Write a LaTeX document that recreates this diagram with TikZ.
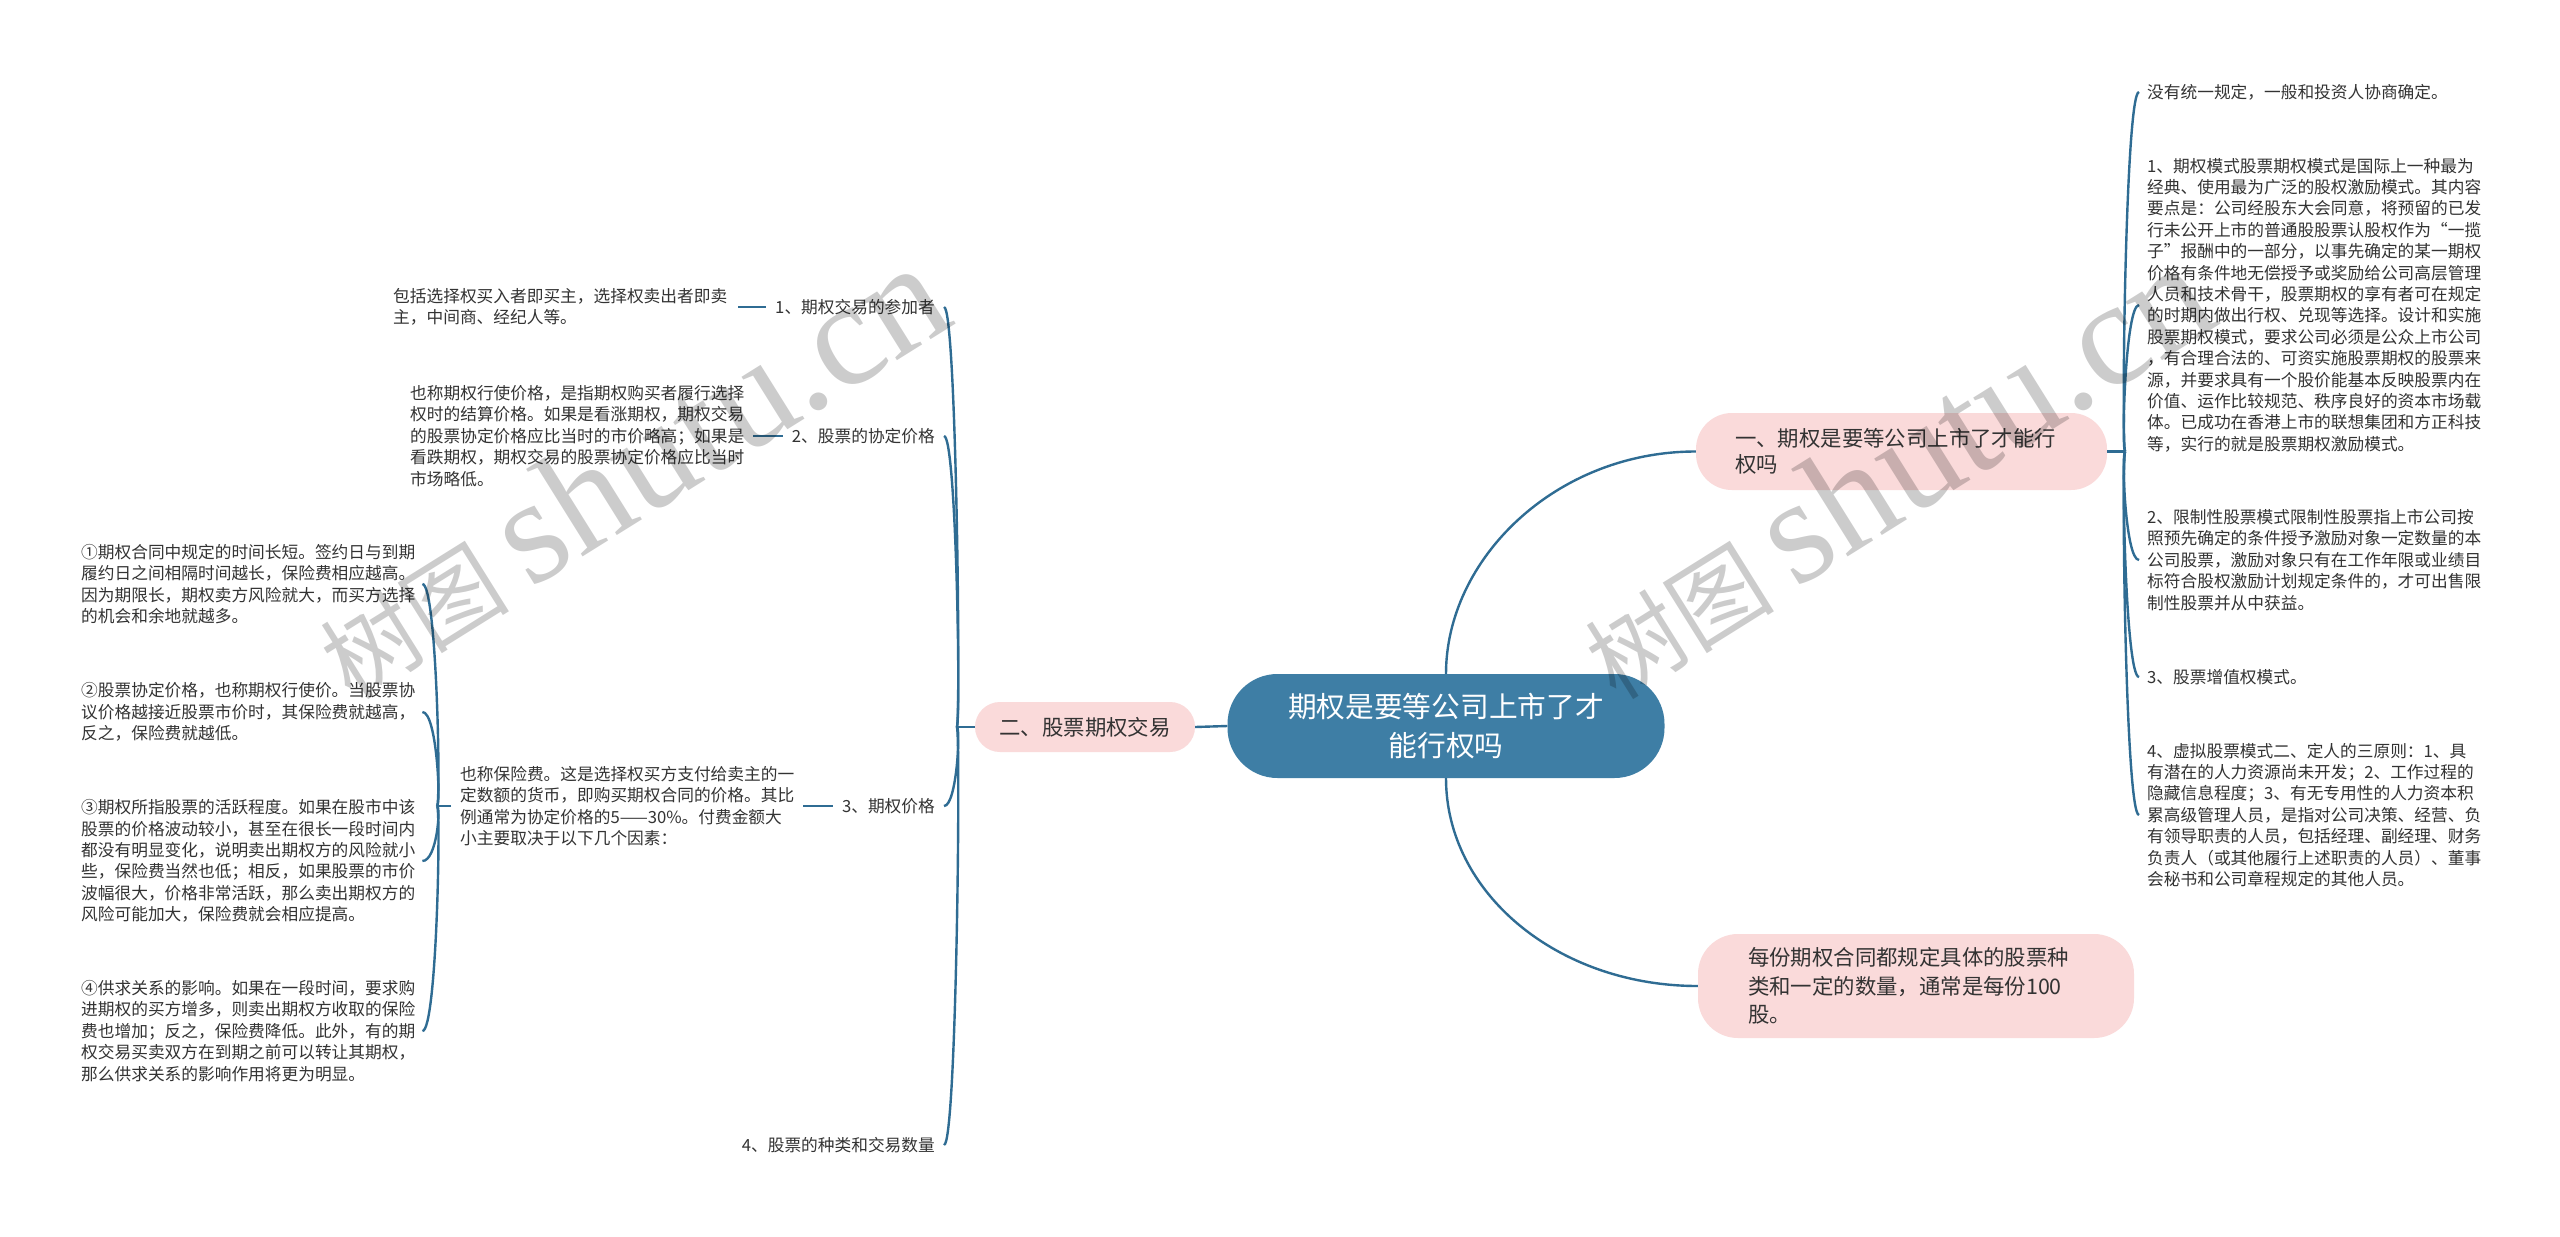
\documentclass[tikz,border=0pt]{standalone}
\usepackage{fontspec}
\setmainfont{Noto Sans CJK SC}
\newfontfamily\wmlatin{Liberation Serif}
\newfontfamily\wmcjk{Noto Sans CJK SC}
\usetikzlibrary{calc}
\definecolor{linec}{RGB}{47,108,147}
\definecolor{rootc}{RGB}{62,126,165}
\definecolor{pinkc}{RGB}{250,218,218}
\definecolor{txtc}{RGB}{51,51,51}
\tikzset{
  body/.style={font=\fontsize{16.7}{21.4}\selectfont, text=txtc, inner sep=0pt, align=left},
  lab/.style={font=\fontsize{16.7}{21.4}\selectfont, text=txtc, inner sep=0pt},
  pinkbox/.style={fill=pinkc, text=txtc, font=\fontsize{21.4}{26}\selectfont},
  rootbox/.style={fill=rootc, text=white, rounded corners=50pt, minimum width=437pt, minimum height=104pt, align=center, font=\fontsize{28.7}{39}\selectfont, inner sep=0pt},
  link/.style={draw=linec, line width=2.4pt},
  wm/.style={text=black, text opacity=0.2, inner sep=0pt, rotate=32, anchor=base west}
}
\begin{document}
\begin{tikzpicture}[x=1pt,y=-1pt]
\useasboundingbox (0,0) rectangle (2560,1237);
\fill[white] (0,0) rectangle (2560,1237);

% main nodes
\node[rootbox] (root) at (1446,726) {期权是要等公司上市了才\\能行权吗};
\node[pinkbox, rounded corners=36pt, minimum height=77pt, text width=333pt, inner xsep=39pt, inner ysep=0pt, align=left] (n1) at (1901.5,451.5) {一、期权是要等公司上市了才能行\\权吗};
\node[pinkbox, rounded corners=25pt, minimum width=220pt, minimum height=50pt, inner sep=0pt] (n2) at (1085,727) {二、股票期权交易};
\node[pinkbox, rounded corners=40pt, minimum height=104pt, text width=336pt, inner xsep=50pt, inner ysep=0pt, align=left, font=\fontsize{21.4}{28.5}\selectfont] (n3) at (1916,986) {每份期权合同都规定具体的股票种\\类和一定的数量，通常是每份100\\股。};

% right children
\node[body, anchor=west] (R1) at (2147,92) {没有统一规定，一般和投资人协商确定。};
\node[body, anchor=west] (R2) at (2147,305) {1、期权模式股票期权模式是国际上一种最为\\经典、使用最为广泛的股权激励模式。其内容\\要点是：公司经股东大会同意，将预留的已发\\行未公开上市的普通股股票认股权作为“一揽\\子”报酬中的一部分，以事先确定的某一期权\\价格有条件地无偿授予或奖励给公司高层管理\\人员和技术骨干，股票期权的享有者可在规定\\的时期内做出行权、兑现等选择。设计和实施\\股票期权模式，要求公司必须是公众上市公司\\，有合理合法的、可资实施股票期权的股票来\\源，并要求具有一个股价能基本反映股票内在\\价值、运作比较规范、秩序良好的资本市场载\\体。已成功在香港上市的联想集团和方正科技\\等，实行的就是股票期权激励模式。};
\node[body, anchor=west] (R3) at (2147,560) {2、限制性股票模式限制性股票指上市公司按\\照预先确定的条件授予激励对象一定数量的本\\公司股票，激励对象只有在工作年限或业绩目\\标符合股权激励计划规定条件的，才可出售限\\制性股票并从中获益。};
\node[body, anchor=west] (R4) at (2147,677) {3、股票增值权模式。};
\node[body, anchor=west] (R5) at (2147,815) {4、虚拟股票模式二、定人的三原则：1、具\\有潜在的人力资源尚未开发；2、工作过程的\\隐藏信息程度；3、有无专用性的人力资本积\\累高级管理人员，是指对公司决策、经营、负\\有领导职责的人员，包括经理、副经理、财务\\负责人（或其他履行上述职责的人员）、董事\\会秘书和公司章程规定的其他人员。};

% left labels
\node[lab, anchor=east] (L1) at (935,307) {1、期权交易的参加者};
\node[lab, anchor=east] (L2) at (935,436) {2、股票的协定价格};
\node[lab, anchor=east] (L3) at (935,806) {3、期权价格};
\node[lab, anchor=east] (L4) at (935,1145) {4、股票的种类和交易数量};

% left texts
\node[body, anchor=west] (T1) at (393,307) {包括选择权买入者即买主，选择权卖出者即卖\\主，中间商、经纪人等。};
\node[body, anchor=west] (T2) at (410,436) {也称期权行使价格，是指期权购买者履行选择\\权时的结算价格。如果是看涨期权，期权交易\\的股票协定价格应比当时的市价略高；如果是\\看跌期权，期权交易的股票协定价格应比当时\\市场略低。};
\node[body, anchor=west] (T3) at (460,806) {也称保险费。这是选择权买方支付给卖主的一\\定数额的货币，即购买期权合同的价格。其比\\例通常为协定价格的5——30\%。付费金额大\\小主要取决于以下几个因素：};

\node[body, anchor=west] (Q1) at (81,584) {①期权合同中规定的时间长短。签约日与到期\\履约日之间相隔时间越长，保险费相应越高。\\因为期限长，期权卖方风险就大，而买方选择\\的机会和余地就越多。};
\node[body, anchor=west] (Q2) at (81,712) {②股票协定价格，也称期权行使价。当股票协\\议价格越接近股票市价时，其保险费就越高，\\反之，保险费就越低。};
\node[body, anchor=west] (Q3) at (81,861) {③期权所指股票的活跃程度。如果在股市中该\\股票的价格波动较小，甚至在很长一段时间内\\都没有明显变化，说明卖出期权方的风险就小\\些，保险费当然也低；相反，如果股票的市价\\波幅很大，价格非常活跃，那么卖出期权方的\\风险可能加大，保险费就会相应提高。};
\node[body, anchor=west] (Q4) at (81,1031) {④供求关系的影响。如果在一段时间，要求购\\进期权的买方增多，则卖出期权方收取的保险\\费也增加；反之，保险费降低。此外，有的期\\权交易买卖双方在到期之前可以转让其期权，\\那么供求关系的影响作用将更为明显。};

% junctions
\coordinate (J1) at ([xshift=18pt]n1.east);
\coordinate (J2) at ([xshift=-18pt]n2.west);
\coordinate (J3) at ([xshift=-23pt]T3.west);

% main connectors
\draw[link] (root.west) -- (n2.east);
\draw[link] (root.north) .. controls ($(root.north)+(0,-115)$) and ($(n1.west)+(-140,0)$) .. (n1.west);
\draw[link] (root.south) .. controls ($(root.south)+(0,115)$) and ($(n3.west)+(-140,0)$) .. (n3.west);

% right brace
\draw[link] (n1.east) -- (J1);
\foreach \r in {R1,R2,R3,R4,R5}{
  \draw[link] (J1) .. controls ([xshift=-4pt]J1) and (J1 |- \r.west) .. ([xshift=-8pt]\r.west);
}

% left brace
\draw[link] (n2.west) -- (J2);
\foreach \l in {L1,L2,L3,L4}{
  \draw[link] (J2) .. controls ([xshift=4pt]J2) and (J2 |- \l.east) .. ([xshift=9pt]\l.east);
}

% straight links
\draw[link, shorten <=11pt, shorten >=9pt] (T1.east) -- (L1.west);
\draw[link, shorten <=9pt, shorten >=9pt] (T2.east) -- (L2.west);
\draw[link, shorten <=9pt, shorten >=9pt] (T3.east) -- (L3.west);
\draw[link, shorten <=9pt] (T3.west) -- (J3);

% factor brace
\foreach \q in {Q1,Q2,Q3,Q4}{
  \draw[link] (J3) .. controls ([xshift=4pt]J3) and (J3 |- \q.east) .. ([xshift=7pt]\q.east);
}

% watermarks
\node[wm] (wm1) at (351,702) {{\wmcjk\fontsize{95}{95}\selectfont 树图}\hspace{22pt}{\wmlatin\fontsize{150}{150}\selectfont shutu.cn}};
\node[wm] (wm2) at (1616,702) {{\wmcjk\fontsize{95}{95}\selectfont 树图}\hspace{22pt}{\wmlatin\fontsize{150}{150}\selectfont shutu.cn}};
\end{tikzpicture}
\end{document}
